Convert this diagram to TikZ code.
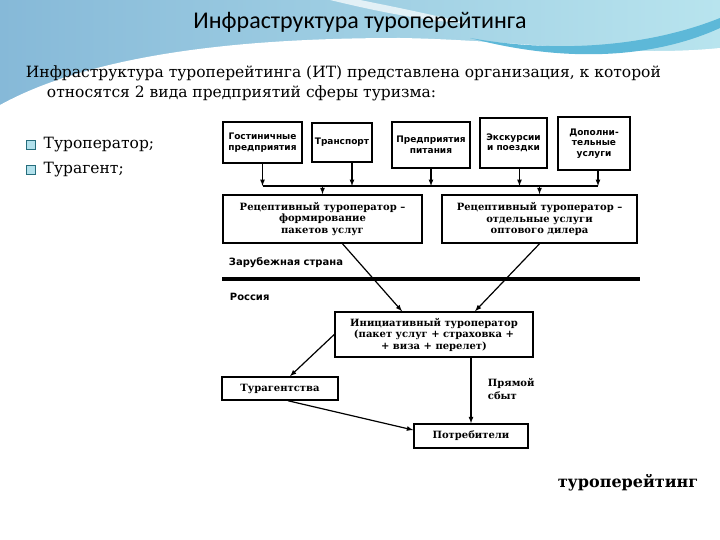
\documentclass[tikz,border=0pt]{standalone}
\usepackage{fontspec}
\setmainfont{DejaVu Serif}
\newfontfamily\headfont{Carlito}
\newfontfamily\schemeserif{DejaVu Serif}
\newfontfamily\schemesans{DejaVu Sans}
\usetikzlibrary{positioning}

\definecolor{skyblue}{HTML}{86B9D8}
\definecolor{paleaqua}{HTML}{B8E4EE}
\definecolor{swoosh}{HTML}{5DB8D8}
\definecolor{bulletcol}{HTML}{3FB5CF}

\begin{document}
\begin{tikzpicture}[
    x=1pt, y=-1pt,
    >=latex,
    line width=1.2pt,
    blk/.style={
        draw,
        line width=1.5pt,
        align=center,
        inner sep=1pt,
        font=\schemeserif\bfseries\fontsize{10}{11.5}\selectfont
    },
    topblk/.style={
        blk,
        font=\schemesans\bfseries\fontsize{9}{10.5}\selectfont
    },
    zone/.style={
        anchor=west,
        font=\schemesans\bfseries\fontsize{10}{11}\selectfont
    },
    bulletbox/.style={
        draw=bulletcol!60!black,
        line width=0.6pt,
        fill=bulletcol!40,
        minimum size=9pt,
        inner sep=0pt
    },
    bodytext/.style={
        font=\fontsize{15.5}{20}\selectfont
    }]
    \useasboundingbox (0,0) rectangle (720,540);

    % background waves
    \shade[left color=skyblue, right color=paleaqua] (0,0) rectangle (720,110);
    \fill[white] (0,105) .. controls (100,50) and (260,38) .. (400,38)
        .. controls (520,40) and (620,58) .. (720,48) -- (720,540) -- (0,540) -- cycle;
    \fill[swoosh] (470,38) .. controls (560,54) and (650,46) .. (720,18)
        -- (720,28) .. controls (650,60) and (560,62) .. (470,38);
    \fill[white, opacity=0.7] (330,0) .. controls (380,12) and (420,20) .. (470,24)
        .. controls (430,14) and (390,6) .. (360,0) -- cycle;

    % text
    \node[font=\headfont\fontsize{24}{28}\selectfont] (title) at (360,22) {Инфраструктура туроперейтинга};
    \node[bodytext, anchor=west, align=left] (intro) at (22,83)
        {Инфраструктура туроперейтинга (ИТ) представлена организация, к которой\\
         \hspace*{21pt}относятся 2 вида предприятий сферы туризма:};
    \node[bulletbox] (bulOp) at (31,145) {};
    \node[bodytext, right=4pt of bulOp] (opText) {Туроператор;};
    \node[bulletbox] (bulAg) at (31,170) {};
    \node[bodytext, right=4pt of bulAg] (agText) {Турагент;};
    \node[bodytext, font=\bfseries\fontsize{16}{20}\selectfont] (footer) at (628,483) {туроперейтинг};

    % suppliers
    \node[topblk, minimum width=79pt, minimum height=41pt] (hotel) at (262.5,142.5) {Гостиничные\\предприятия};
    \node[topblk, minimum width=60pt, minimum height=39pt] (transp) at (342,142.5) {Транспорт};
    \node[topblk, minimum width=78pt, minimum height=46pt] (food) at (431,145) {Предприятия\\питания};
    \node[topblk, minimum width=67pt, minimum height=50pt] (excur) at (513.5,143) {Экскурсии\\и поездки};
    \node[topblk, minimum width=72pt, minimum height=53pt] (extra) at (594,143.5) {Дополни-\\тельные\\услуги};

    \coordinate (busW) at (263,186);
    \coordinate (busE) at (598,186);
    \draw (busW) -- (busE);
    \foreach \b/\dx in {hotel/0,transp/10,food/0,excur/6,extra/4}
        \draw[->] ([xshift=\dx pt]\b.south) -- ([xshift=\dx pt]\b.south |- busW);

    % receptive operators
    \node[blk, minimum width=199pt, minimum height=48pt] (recform) at (322.5,219)
        {Рецептивный туроператор –\\формирование\\пакетов услуг};
    \node[blk, minimum width=195pt, minimum height=48pt] (recwhole) at (539.5,219)
        {Рецептивный туроператор –\\отдельные услуги\\оптового дилера};
    \draw[->] (recform.north |- busW) -- (recform.north);
    \draw[->] (recwhole.north |- busW) -- (recwhole.north);

    % border
    \node[zone] (abroad) at (225,263) {Зарубежная страна};
    \coordinate (borderW) at (222,279);
    \coordinate (borderE) at (640,279);
    \draw[line width=4pt] (borderW) -- (borderE);
    \node[zone] (russia) at (226,297) {Россия};

    % home market
    \node[blk, minimum width=198pt, minimum height=45pt] (initop) at (434,334.5)
        {Инициативный туроператор\\(пакет услуг + страховка +\\+ виза + перелет)};
    \node[blk, minimum width=116pt, minimum height=23pt] (agency) at (280,388.5) {Турагентства};
    \node[blk, minimum width=114pt, minimum height=24pt] (consum) at (471,436) {Потребители};
    \node[anchor=west, align=left, font=\schemeserif\bfseries\fontsize{10}{12.5}\selectfont] (direct) at (484,389) {Прямой\\сбыт};

    \draw[->] ([xshift=20pt]recform.south) -- ([xshift=-32pt]initop.north);
    \draw[->] (recwhole.south) -- ([xshift=41pt]initop.north);
    \draw[->] (initop.west) -- ([xshift=10pt]agency.north);
    \draw[->] ([xshift=8pt]agency.south) -- ([yshift=6pt]consum.west);
    \draw[->] (consum.north |- initop.south) -- (consum.north);
\end{tikzpicture}
\end{document}
